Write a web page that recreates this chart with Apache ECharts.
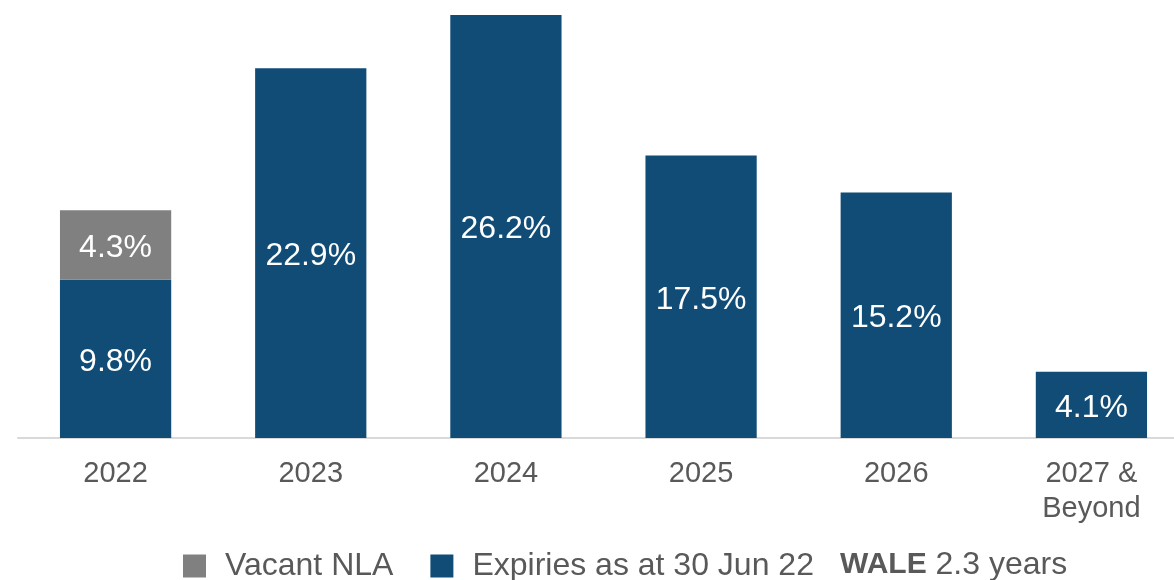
<!DOCTYPE html>
<html>
<head>
<meta charset="utf-8">
<script src="https://cdn.jsdelivr.net/npm/echarts@6/dist/echarts.min.js"></script>
<style>html,body{margin:0;padding:0;background:#fff;overflow:hidden;width:1174px;height:580px}#c{width:1189px;height:580px}</style>
</head>
<body>
<div id="c"></div>
<script>
const categories = ['2022', '2023', '2024', '2025', '2026', '2027 &\nBeyond'];
const expiries = [9.8, 22.9, 26.2, 17.5, 15.2, 4.1];
const vacant = [4.3, null, null, null, null, null];
const seriesNames = ['Expiries as at 30 Jun 22', 'Vacant NLA'];
const waleLabel = 'WALE';
const waleValue = '2.3 years';

const FONT = '"Liberation Sans", Arial, sans-serif';
const TXT = '#595959';
const chart = echarts.init(document.getElementById('c'));
const labelCfg = {
  show: true, position: 'inside', color: '#ffffff', fontSize: 32, fontFamily: FONT, offset: [0, 3],
  formatter: p => p.value == null ? '' : p.value.toFixed(1) + '%'
};
chart.setOption({
  animation: false,
  grid: { left: 18, right: 0, top: 15, bottom: 142, containLabel: false },
  xAxis: {
    type: 'category', data: categories,
    axisLine: { lineStyle: { color: '#d9d9d9', width: 2 } },
    axisTick: { show: false },
    axisLabel: { color: TXT, fontSize: 29, fontFamily: FONT, margin: 18, lineHeight: 35, interval: 0 }
  },
  yAxis: { type: 'value', min: 0, max: 26.2, show: false, splitLine: { show: false } },
  legend: {
    data: [seriesNames[1], seriesNames[0]],
    left: 183, top: 550, padding: 0, itemWidth: 23, itemHeight: 23, itemGap: 37, icon: 'rect',
    textStyle: { color: TXT, fontSize: 32, fontFamily: FONT, padding: [0, 0, 0, 14] }
  },
  graphic: [{
    type: 'text', left: 840, top: 549,
    style: {
      text: '{b|' + waleLabel + '} ' + waleValue,
      fill: TXT, font: '32px ' + FONT,
      rich: { b: { fontWeight: 'bold', fontSize: 30, fontFamily: FONT, fill: TXT } }
    }
  }],
  series: [
    { name: seriesNames[0], type: 'bar', stack: 's', data: expiries, barWidth: '57%',
      itemStyle: { color: '#104C75' }, label: labelCfg },
    { name: seriesNames[1], type: 'bar', stack: 's', data: vacant, barWidth: '57%',
      itemStyle: { color: '#808080' }, label: labelCfg }
  ]
});
</script>
</body>
</html>
